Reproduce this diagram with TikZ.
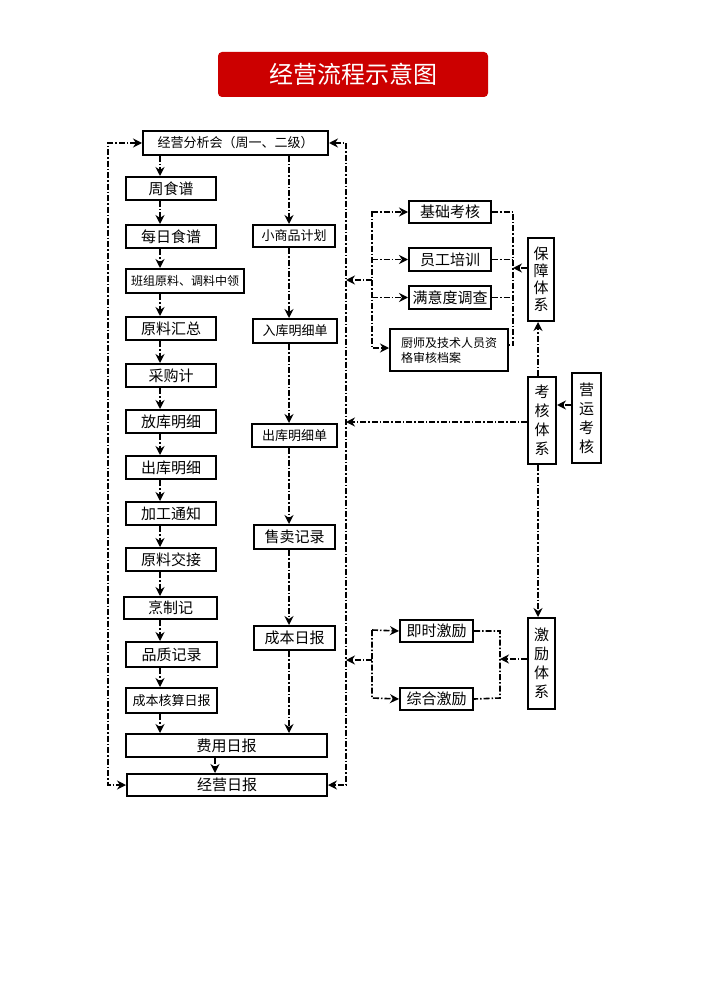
\documentclass[tikz,border=0pt]{standalone}
\usepackage{fontspec}
\setmainfont{Noto Sans CJK SC}
\usetikzlibrary{arrows.meta,calc}
\begin{document}
\begin{tikzpicture}[x=1pt,y=-1pt,
 box/.style={draw,line width=2pt,inner sep=0pt,font=\fontsize{15}{16}\selectfont,anchor=north west},
 dd/.style={line width=1.6pt,dash pattern=on 6pt off 2pt on 1.5pt off 2pt},
 arr/.style={-{Stealth[length=9pt,width=9pt]}},
 barr/.style={{Stealth[length=9pt,width=9pt]}-{Stealth[length=9pt,width=9pt]}}]
\useasboundingbox (0,0) rectangle (707,1000);
\fill[white] (0,0) rectangle (707,1000);
\newcommand{\bx}[6]{\node[box,minimum width=#4-#2,minimum height=#5-#3] (#1) at (#2,#3) {#6};}
% title
\fill[red!80!black,rounded corners=4pt] (218,52) rectangle (488,97);
\node[text=white,font=\fontsize{24}{26}\selectfont] (title) at (353,74.5) {经营流程示意图};
% left column
\bx{fx}{142}{130}{327}{154}{\fontsize{13}{14}\selectfont 经营分析会（周一、二级）}
\bx{a1}{125}{176}{215}{199}{周食谱}
\bx{a2}{125}{224}{215}{247}{每日食谱}
\bx{a3}{125}{268}{243}{292}{\fontsize{12}{13}\selectfont 班组原料、调料中领}
\bx{a4}{125}{316}{215}{339}{原料汇总}
\bx{a5}{125}{363}{215}{386}{采购计}
\bx{a6}{125}{409}{215}{432}{放库明细}
\bx{a7}{125}{455}{215}{478}{出库明细}
\bx{a8}{125}{501}{215}{524}{加工通知}
\bx{a9}{125}{547}{215}{570}{原料交接}
\bx{a10}{123}{596}{216}{618}{烹制记}
\bx{a11}{125}{641}{216}{666}{品质记录}
\bx{a12}{125}{687}{216}{712}{\fontsize{13}{14}\selectfont 成本核算日报}
\bx{fy}{125}{733}{326}{756}{费用日报}
\bx{jy}{126}{773}{326}{795}{经营日报}
% middle column
\bx{m1}{252}{224}{334}{246}{\fontsize{13}{14}\selectfont 小商品计划}
\bx{m2}{252}{318}{336}{342}{\fontsize{13}{14}\selectfont 入库明细单}
\bx{m3}{251}{423}{336}{446}{\fontsize{13}{14}\selectfont 出库明细单}
\bx{m4}{253}{524}{334}{548}{售卖记录}
\bx{m5}{253}{625}{334}{649}{成本日报}
% right group
\bx{r1}{408}{200}{490}{222}{基础考核}
\bx{r2}{408}{247}{490}{270}{员工培训}
\bx{r3}{408}{285}{490}{308}{满意度调查}
\node[box,minimum width=118,minimum height=42,align=left,font=\fontsize{12}{15}\selectfont] (r4) at (389,328) {厨师及技术人员资\\格审核档案};
\node[box,minimum width=26,minimum height=83,align=center,font=\fontsize{15}{17}\selectfont] (bz) at (527,237) {保\\障\\体\\系};
\node[box,minimum width=28,minimum height=87,align=center,font=\fontsize{15}{19}\selectfont] (kh) at (527,376) {考\\核\\体\\系};
\node[box,minimum width=29,minimum height=90,align=center,font=\fontsize{15}{19}\selectfont] (yy) at (571,372) {营\\运\\考\\核};
\node[box,minimum width=27,minimum height=91,align=center,font=\fontsize{15}{19}\selectfont] (jl) at (527,617) {激\\励\\体\\系};
\bx{j1}{399}{619}{472}{641}{即时激励}
\bx{j2}{399}{687}{472}{709}{综合激励}
% coordinates
\coordinate (cL) at (160,0);
\coordinate (cM) at (289,0);
\coordinate (cR) at (346,0);
\coordinate (cLL) at (108,0);
\coordinate (gL) at (372,0);
\coordinate (gR) at (513,0);
\coordinate (hR) at (500,0);
% left column arrows
\foreach \p/\q in {fx/a1,a1/a2,a2/a3,a3/a4,a4/a5,a5/a6,a6/a7,a7/a8,a8/a9,a9/a10,a10/a11,a11/a12,a12/fy}
  \draw[dd,arr] (\p.south -| cL) -- (\q.north -| cL);
\draw[dd,arr] (fy.south -| 215,0) -- (jy.north -| 215,0);
% middle column
\foreach \p/\q in {fx/m1,m1/m2,m2/m3,m3/m4,m4/m5,m5/fy}
  \draw[dd,arr] (\p.south -| cM) -- (\q.north -| cM);
% left loop
\draw[dd,barr] (fx.west) -| (108,460) |- (jy.west);
% right loop
\draw[dd,barr] (fx.east) -| (346,460) |- (jy.east);
% guarantee group
\foreach \b in {r1,r2,r3} \draw[dd,arr] (\b.west -| gL) -- (\b.west);
\draw[dd,arr] (372,211) -- (372,348) -- (r4.west |- 0,348);
\draw[dd] (r1.east) -| (513,345) -- (r4.east |- 0,345);
\draw[dd] (r2.east) -- (r2.east -| gR);
\draw[dd] (r3.east) -- (r3.east -| gR);
\coordinate (g1) at (372,280);
\coordinate (g2) at (513,268);
\draw[dd,arr] (g1) -- (g1 -| cR);
\draw[dd,arr] (bz.west |- g2) -- (g2);
% assessment
\draw[dd,arr] (yy.west |- 0,405) -- (kh.east |- 0,405);
\draw[dd,arr] (kh.north -| 538,0) -- (bz.south -| 538,0);
\draw[dd,arr] (kh.west |- 0,422) -- (cR |- 0,422);
\draw[dd,arr] (kh.south -| 538,0) -- (jl.north -| 538,0);
% incentive group
\draw[dd,arr] (372,630) -- (j1.west);
\draw[dd,arr] (372,630) -- (372,698) -- (j2.west);
\draw[dd] (j1.east) -| (500,698) -- (j2.east);
\draw[dd,arr] (372,660) -- (cR |- 0,660);
\draw[dd,arr] (jl.west |- 0,659) -- (500,659);
\end{tikzpicture}
\end{document}
